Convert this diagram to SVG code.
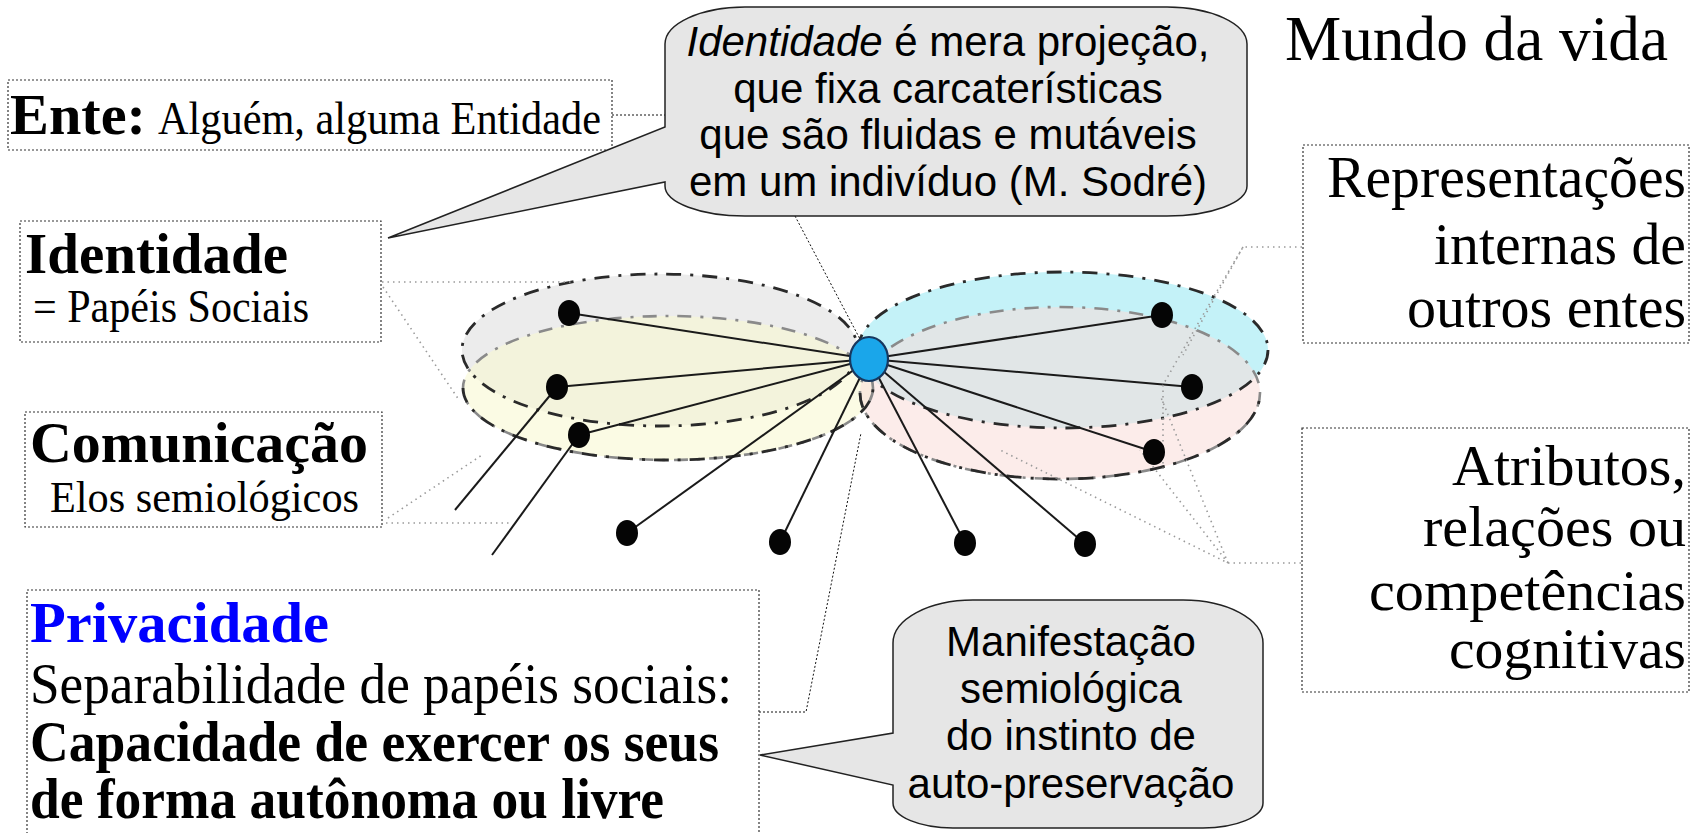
<svg xmlns="http://www.w3.org/2000/svg" width="1707" height="833" viewBox="0 0 1707 833">
<style>
.box{fill:#fff;stroke:#333;stroke-width:1.2;stroke-dasharray:2 2}
.serif{font-family:"Liberation Serif","Times New Roman",serif;fill:#000}
.sans{font-family:"Liberation Sans",Arial,sans-serif;fill:#000;font-size:42px}
.b{font-weight:bold}
.bubble{fill:#e6e6e6;stroke:#222;stroke-width:1.5}
.faint{fill:none;stroke:#9a9a9a;stroke-width:1.6;stroke-dasharray:1.5 4}
.thin{fill:none;stroke:#111;stroke-width:1;stroke-dasharray:2 2}
.edge{stroke:#1a1a1a;stroke-width:2;fill:none}
.dot{fill:#050505}
.ell{fill:none;stroke:#2a2a2a;stroke-width:2.8;stroke-dasharray:15 9 3 9}
.ellg{fill:none;stroke:#8a8a8a;stroke-width:2.6;stroke-dasharray:14 9 3 9}
</style>

<g id="mundo">
<text class="serif" x="1285" y="60" font-size="63" textLength="383" lengthAdjust="spacingAndGlyphs">Mundo da vida</text>
</g>

<g id="graph-areas">
<ellipse cx="660" cy="350" rx="198" ry="76" fill="#ececec"/>
<ellipse cx="668" cy="388" rx="205" ry="72" fill="#f9f8d2" fill-opacity="0.6"/>
<ellipse cx="1063" cy="350" rx="205" ry="78" fill="#c4f2f8"/>
<ellipse cx="1060" cy="393" rx="200" ry="86" fill="#f9dcd8" fill-opacity="0.55"/>
<ellipse cx="660" cy="350" rx="198" ry="76" class="ell"/>
<ellipse cx="668" cy="388" rx="205" ry="72" class="ellg"/>
<path d="M463,388 A205,72 0 0 0 873,388" class="ell"/>
<ellipse cx="1063" cy="350" rx="205" ry="78" class="ell"/>
<ellipse cx="1060" cy="393" rx="200" ry="86" class="ellg"/>
<path d="M860,393 A200,86 0 0 0 1260,393" class="ell"/>
</g>

<g id="connectors">
<line class="edge" x1="869" y1="359" x2="569" y2="313"/>
<line class="edge" x1="869" y1="359" x2="557" y2="387"/>
<line class="edge" x1="869" y1="359" x2="579" y2="435"/>
<line class="edge" x1="869" y1="359" x2="627" y2="533"/>
<line class="edge" x1="869" y1="359" x2="780" y2="542"/>
<line class="edge" x1="869" y1="359" x2="965" y2="543"/>
<line class="edge" x1="869" y1="359" x2="1085" y2="544"/>
<line class="edge" x1="869" y1="359" x2="1162" y2="315"/>
<line class="edge" x1="869" y1="359" x2="1192" y2="387"/>
<line class="edge" x1="869" y1="359" x2="1154" y2="452"/>
<line class="edge" x1="557" y1="387" x2="455" y2="510"/>
<line class="edge" x1="579" y1="435" x2="492" y2="555"/>
<polyline class="faint" points="382,282 571,282"/>
<polyline class="faint" points="383,287 459,400"/>
<polyline class="faint" points="386,523 510,523"/>
<polyline class="faint" points="388,518 482,455"/>
<polyline class="faint" points="1302,247 1243,247 1183,355"/>
<polyline class="faint" points="1243,247 1200,320 1163,385 1163,470"/>
<polyline class="faint" points="1301,563 1228,563 1000,450"/>
<polyline class="faint" points="1228,563 1140,450"/>
<polyline class="faint" points="1228,563 1160,395"/>
<polyline class="thin" points="612,115 665,115"/>
<polyline class="thin" points="795,216 870,358"/>
<polyline class="thin" points="759,712 806,712 861,433"/>
</g>

<g id="graph-nodes">
<ellipse class="dot" cx="569" cy="313" rx="11" ry="13"/>
<ellipse class="dot" cx="557" cy="387" rx="11" ry="13"/>
<ellipse class="dot" cx="579" cy="435" rx="11" ry="13"/>
<ellipse class="dot" cx="627" cy="533" rx="11" ry="13"/>
<ellipse class="dot" cx="780" cy="542" rx="11" ry="13"/>
<ellipse class="dot" cx="965" cy="543" rx="11" ry="13"/>
<ellipse class="dot" cx="1085" cy="544" rx="11" ry="13"/>
<ellipse class="dot" cx="1162" cy="315" rx="11" ry="13"/>
<ellipse class="dot" cx="1192" cy="387" rx="11" ry="13"/>
<ellipse class="dot" cx="1154" cy="452" rx="11" ry="13"/>
<ellipse id="center" cx="869" cy="359" rx="19" ry="22" fill="#1aa6ea" stroke="#17385f" stroke-width="2.2"/>
</g>

<g id="ente">
<rect class="box" x="8" y="80" width="604" height="70"/>
<text class="serif b" x="10" y="134" font-size="58" textLength="136" lengthAdjust="spacingAndGlyphs">Ente:</text>
<text class="serif" x="158" y="134" font-size="46" textLength="443" lengthAdjust="spacingAndGlyphs">Alguém, alguma Entidade</text>
</g>

<g id="identidade">
<rect class="box" x="20" y="221" width="361" height="121"/>
<text class="serif b" x="25" y="273" font-size="57" textLength="263" lengthAdjust="spacingAndGlyphs">Identidade</text>
<text class="serif" x="33" y="322" font-size="47" textLength="276" lengthAdjust="spacingAndGlyphs">= Papéis Sociais</text>
</g>

<g id="comunicacao">
<rect class="box" x="25" y="412" width="357" height="115"/>
<text class="serif b" x="30" y="462" font-size="57" textLength="338" lengthAdjust="spacingAndGlyphs">Comunicação</text>
<text class="serif" x="50" y="512" font-size="45" textLength="309" lengthAdjust="spacingAndGlyphs">Elos semiológicos</text>
</g>

<g id="privacidade">
<rect class="box" x="27" y="590" width="732" height="260"/>
<text class="serif b" x="30" y="642" font-size="58" style="fill:#0000ff" textLength="299" lengthAdjust="spacingAndGlyphs">Privacidade</text>
<text class="serif" x="30" y="703" font-size="57" textLength="702" lengthAdjust="spacingAndGlyphs">Separabilidade de papéis sociais:</text>
<text class="serif b" x="30" y="761" font-size="56" textLength="689" lengthAdjust="spacingAndGlyphs">Capacidade de exercer os seus</text>
<text class="serif b" x="30" y="818" font-size="56" textLength="634" lengthAdjust="spacingAndGlyphs">de forma autônoma ou livre</text>
</g>

<g id="representacoes">
<rect class="box" x="1303" y="145" width="386" height="198"/>
<text class="serif" x="1686" y="197" font-size="60" text-anchor="end" textLength="359" lengthAdjust="spacingAndGlyphs">Representações</text>
<text class="serif" x="1686" y="264" font-size="60" text-anchor="end" textLength="252" lengthAdjust="spacingAndGlyphs">internas de</text>
<text class="serif" x="1686" y="327" font-size="60" text-anchor="end" textLength="279" lengthAdjust="spacingAndGlyphs">outros entes</text>
</g>

<g id="atributos">
<rect class="box" x="1302" y="428" width="387" height="264"/>
<text class="serif" x="1686" y="485" font-size="57" text-anchor="end" textLength="234" lengthAdjust="spacingAndGlyphs">Atributos,</text>
<text class="serif" x="1686" y="546" font-size="56" text-anchor="end" textLength="263" lengthAdjust="spacingAndGlyphs">relações ou</text>
<text class="serif" x="1686" y="610" font-size="56" text-anchor="end" textLength="317" lengthAdjust="spacingAndGlyphs">competências</text>
<text class="serif" x="1686" y="668" font-size="57" text-anchor="end" textLength="237" lengthAdjust="spacingAndGlyphs">cognitivas</text>
</g>

<g id="bubble-identidade">
<path class="bubble" d="M745,7 H1167 A80,37 0 0 1 1247,44 V186 A80,30 0 0 1 1167,216 H745 A80,30 0 0 1 665,186 V182 L388,238 L665,127 V44 A80,37 0 0 1 745,7 Z"/>
<text class="sans" x="948" y="56" text-anchor="middle"><tspan font-style="italic">Identidade</tspan> é mera projeção,</text>
<text class="sans" x="948" y="103" text-anchor="middle">que fixa carcaterísticas</text>
<text class="sans" x="948" y="149" text-anchor="middle">que são fluidas e mutáveis</text>
<text class="sans" x="948" y="196" text-anchor="middle">em um indivíduo (M. Sodré)</text>
</g>

<g id="bubble-manifestacao">
<path class="bubble" d="M973,600 H1183 A80,43 0 0 1 1263,643 V803 A60,25 0 0 1 1203,828 H953 A60,25 0 0 1 893,803 V785 L760,755 L893,733 V643 A80,43 0 0 1 973,600 Z"/>
<text class="sans" x="1071" y="656" text-anchor="middle">Manifestação</text>
<text class="sans" x="1071" y="703" text-anchor="middle">semiológica</text>
<text class="sans" x="1071" y="750" text-anchor="middle">do instinto de</text>
<text class="sans" x="1071" y="798" text-anchor="middle">auto-preservação</text>
</g>
</svg>
